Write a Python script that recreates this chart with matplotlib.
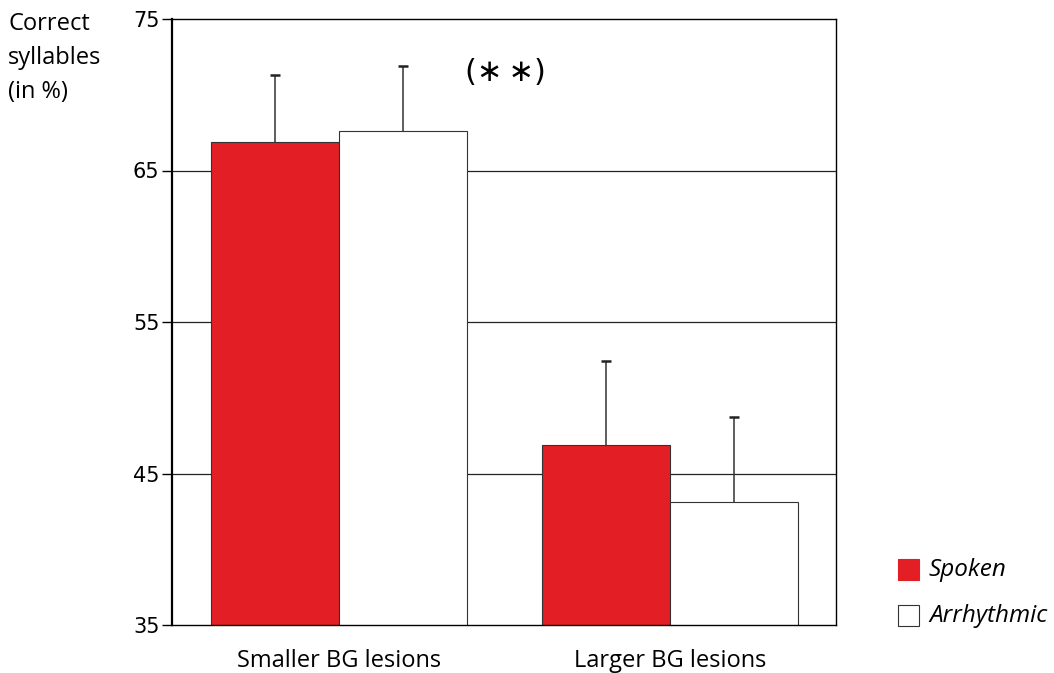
import matplotlib
matplotlib.use("Agg")
import matplotlib.pyplot as plt
from matplotlib.patches import Rectangle
import numpy as np

groups = ["Smaller BG lesions", "Larger BG lesions"]
series = ["Spoken", "Arrhythmic"]
spoken = [66.9, 46.9]
spoken_err = [4.4, 5.5]
arrhythmic = [67.6, 43.1]
arrhythmic_err = [4.3, 5.6]
yticks = [35, 45, 55, 65, 75]

red = "#E31E24"
edge = "#333333"
main_font = ["Open Sans", "DejaVu Sans"]
narrow_font = ["Liberation Sans Narrow", "DejaVu Sans"]

fig = plt.figure(figsize=(10.54, 6.73), dpi=100)
ax = fig.add_axes([172 / 1054, 48 / 673, 664 / 1054, 606 / 673])

x = np.arange(len(groups))
w = 0.387
ax.set_xlim(-0.505, 1.502)
ax.set_ylim(35, 75)

for yv in [45, 55, 65]:
    ax.axhline(yv, color="#222222", lw=0.9, zorder=0)


def upper_error(xs, vals, errs):
    """Draw a one-sided (upward) error bar with a short cap."""
    tops = np.asarray(vals) + np.asarray(errs)
    ax.vlines(xs, vals, tops, color="#333333", lw=1.1, zorder=3)
    ax.plot(xs, tops, ls="none", marker="_", ms=7, mew=1.8,
            color="#222222", zorder=3)


ax.bar(x - w / 2, spoken, w, color=red, edgecolor=edge, linewidth=0.8,
       zorder=2)
upper_error(x - w / 2, spoken, spoken_err)
ax.bar(x + w / 2, arrhythmic, w, color="white", edgecolor=edge,
       linewidth=0.8, zorder=2)
upper_error(x + w / 2, arrhythmic, arrhythmic_err)

ax.set_yticks(yticks)
ax.set_yticklabels([str(v) for v in yticks], family=narrow_font, fontsize=15)
ax.tick_params(axis="y", length=7, width=1.0, pad=2, direction="out")
ax.set_xticks([])
for s in ["top", "right", "bottom"]:
    ax.spines[s].set_linewidth(1.0)
ax.spines["left"].set_linewidth(1.6)

for xi, g in zip(x, groups):
    ax.text(xi, 32.6, g, ha="center", va="center", fontsize=17,
            family=main_font)

ax.text(0.5015, 71.5, "(\u2217\u2009\u2217)", ha="center", va="center",
        fontsize=22, family=["DejaVu Sans"])

fig.text(8 / 1054, 1 - 58 / 673, "Correct\nsyllables\n(in %)",
         ha="left", va="center", fontsize=17, family=main_font,
         linespacing=1.55)

# legend drawn as figure patches and labels
for i, (lab, fc) in enumerate(zip(series, [red, "white"])):
    y0 = 1 - (580 + i * 46) / 673
    fig.patches.append(Rectangle((898 / 1054, y0), 21 / 1054, 21 / 673,
                                 transform=fig.transFigure, facecolor=fc,
                                 edgecolor=edge if fc == "white" else fc,
                                 linewidth=0.8))
    fig.text(929 / 1054, y0 + 10 / 673, lab, ha="left", va="center",
             fontsize=17.5, style="italic", family=main_font)

fig.savefig("out.png", dpi=100)
